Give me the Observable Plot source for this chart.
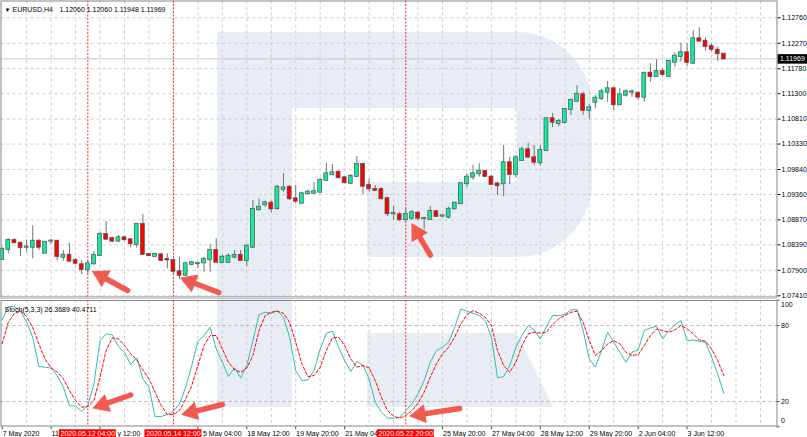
<!DOCTYPE html>
<html><head><meta charset="utf-8">
<script src="https://cdn.jsdelivr.net/npm/d3@7"></script>
<script src="https://cdn.jsdelivr.net/npm/@observablehq/plot@0.6"></script>
<style>
html,body{margin:0;padding:0;background:#fff;}
#wrap{position:relative;width:807px;height:437px;overflow:hidden;background:#fff;}
#wm{position:absolute;left:0;top:0;}
#top{position:absolute;left:0;top:0;}
#sep{position:absolute;left:0;top:297px;width:777px;height:2px;background:#cfcfcf;}
#bot{position:absolute;left:0;top:299px;}
</style></head><body>
<div id="wrap">
<svg id="wm" width="807" height="437"><path fill="#e8edf5" fill-rule="evenodd" d="M217,32 H517 A75,75 0 0 1 592,107 V182 A75,75 0 0 1 517,257 H367 V182 H292 V407 H217 Z M292,108 H517 V182 H292 Z M367,333 H517 L553,407 H367 Z"/></svg>
<div id="top"></div><div id="sep"></div><div id="bot"></div>
</div>
<script>
// ---------- data ----------
const symbolName = "EURUSD,H4";
const headerOHLC = [1.12060, 1.12060, 1.11948, 1.11969];
const stochName = "Stoch(5,3,3)";
const stochLast = [26.3689, 40.4711];

const open  = [1.08109,1.08301,1.08474,1.08422,1.08345,1.08345,1.08461,1.08230,1.08461,1.08461,1.08153,1.08191,1.08089,1.08007,1.07910,1.08026,1.08186,1.08590,1.08513,1.08461,1.08526,1.08488,1.08397,1.08782,1.08205,1.08166,1.08199,1.08109,1.08089,1.07872,1.07806,1.08012,1.08026,1.08045,1.08103,1.08282,1.08051,1.08051,1.08153,1.08191,1.08089,1.08345,1.09065,1.09161,1.09192,1.09084,1.09456,1.09500,1.09277,1.09192,1.09373,1.09385,1.09404,1.09629,1.09739,1.09789,1.09681,1.09577,1.09706,1.09937,1.09533,1.09456,1.09456,1.09277,1.08988,1.08969,1.08873,1.08903,1.09000,1.08892,1.08878,1.09027,1.08942,1.08923,1.09084,1.09181,1.09566,1.09693,1.09758,1.09802,1.09693,1.09562,1.09566,1.09970,1.09745,1.10014,1.10220,1.10066,1.09970,1.10206,1.10817,1.10726,1.10745,1.10996,1.11155,1.11278,1.10976,1.11136,1.11207,1.11329,1.11394,1.11086,1.11271,1.11329,1.11309,1.11232,1.11694,1.11631,1.11727,1.11631,1.11906,1.12016,1.12087,1.11887,1.12356,1.12310,1.12208,1.12137,1.12060];
const high  = [1.08345,1.08507,1.08507,1.08442,1.08488,1.08757,1.08488,1.08455,1.08494,1.08474,1.08282,1.08422,1.08122,1.08089,1.08089,1.08268,1.08634,1.08840,1.08538,1.08571,1.08551,1.08507,1.08807,1.08975,1.08218,1.08230,1.08218,1.08218,1.08122,1.08153,1.08057,1.08070,1.08057,1.08153,1.08392,1.08507,1.08186,1.08218,1.08282,1.08282,1.08392,1.09244,1.09277,1.09231,1.09231,1.09533,1.09758,1.09533,1.09533,1.09404,1.09450,1.09585,1.09662,1.09962,1.09937,1.09808,1.09706,1.09745,1.10091,1.09962,1.09662,1.09533,1.09489,1.09308,1.09129,1.09019,1.09084,1.09052,1.09032,1.08923,1.09129,1.09052,1.08969,1.09115,1.09211,1.09585,1.09758,1.09918,1.09950,1.09816,1.09725,1.09596,1.10303,1.10078,1.10110,1.10270,1.10347,1.10303,1.10303,1.10822,1.10919,1.10803,1.11015,1.11201,1.11457,1.11329,1.11086,1.11265,1.11381,1.11534,1.11425,1.11394,1.11375,1.11375,1.11329,1.11708,1.11875,1.11952,1.11779,1.11939,1.12087,1.12272,1.12260,1.12516,1.12568,1.12376,1.12260,1.12195,1.12060];
const low   = [1.08089,1.08218,1.08411,1.08166,1.08249,1.08122,1.08282,1.08218,1.08397,1.08076,1.08076,1.08064,1.08012,1.07820,1.07820,1.07993,1.08166,1.08474,1.08442,1.08442,1.08461,1.08334,1.08326,1.08195,1.08166,1.08153,1.08070,1.07930,1.07820,1.07729,1.07781,1.07993,1.07930,1.07864,1.07864,1.08045,1.08026,1.08037,1.08122,1.08076,1.07974,1.08315,1.09038,1.09115,1.09007,1.09065,1.09404,1.09244,1.09181,1.09181,1.09360,1.09373,1.09385,1.09616,1.09725,1.09662,1.09566,1.09546,1.09693,1.09354,1.09404,1.09427,1.09258,1.08936,1.08859,1.08840,1.08840,1.08859,1.08846,1.08680,1.08859,1.08923,1.08923,1.08892,1.09065,1.09167,1.09500,1.09629,1.09693,1.09687,1.09533,1.09340,1.09321,1.09552,1.09681,1.10001,1.10066,1.09918,1.09904,1.10193,1.10649,1.10668,1.10720,1.10880,1.11136,1.10880,1.10803,1.11009,1.11169,1.11136,1.10976,1.11073,1.11232,1.11232,1.11169,1.11136,1.11521,1.11617,1.11617,1.11617,1.11810,1.11906,1.11823,1.11862,1.12305,1.12118,1.12098,1.11925,1.11948];
const close = [1.08301,1.08474,1.08430,1.08334,1.08349,1.08461,1.08345,1.08436,1.08465,1.08166,1.08191,1.08076,1.08037,1.07916,1.08026,1.08186,1.08590,1.08499,1.08461,1.08526,1.08488,1.08411,1.08782,1.08205,1.08180,1.08205,1.08089,1.08099,1.07883,1.07806,1.08026,1.08045,1.08028,1.08109,1.08282,1.08057,1.08153,1.08166,1.08191,1.08089,1.08365,1.09071,1.09115,1.09200,1.09084,1.09500,1.09485,1.09277,1.09231,1.09373,1.09404,1.09412,1.09629,1.09758,1.09777,1.09681,1.09585,1.09706,1.09937,1.09519,1.09469,1.09437,1.09277,1.08988,1.08994,1.08873,1.08975,1.09007,1.08903,1.08898,1.09032,1.08936,1.08948,1.09077,1.09192,1.09566,1.09693,1.09758,1.09808,1.09706,1.09552,1.09527,1.09970,1.09745,1.10066,1.10220,1.10078,1.09981,1.10206,1.10817,1.10751,1.10765,1.10996,1.11169,1.11284,1.10976,1.11028,1.11213,1.11336,1.11394,1.11086,1.11278,1.11336,1.11333,1.11232,1.11694,1.11631,1.11727,1.11669,1.11919,1.12021,1.12087,1.11900,1.12356,1.12310,1.12208,1.12150,1.12068,1.11969];

const stochMain   = [84.4,95.0,95.0,91.3,82.6,70.8,47.6,47.1,46.3,40.5,31.3,16.8,16.3,12.3,16.8,33.9,68.1,73.4,72.6,63.4,58.9,49.2,54.4,37.9,31.3,8.1,8.1,9.7,12.3,18.1,31.3,48.4,67.6,72.1,78.6,61.5,51.0,39.7,46.5,38.6,48.4,68.1,88.7,90.5,89.7,91.8,86.5,70.8,44.4,36.5,37.1,44.4,61.5,73.9,75.5,62.9,52.3,43.6,51.8,48.4,37.9,19.4,11.5,7.0,6.8,7.6,12.8,18.1,26.0,36.5,51.0,60.2,62.9,66.8,78.6,93.1,91.3,89.7,87.9,83.9,70.8,38.6,39.7,48.4,62.9,72.1,80.0,76.5,69.4,79.2,87.9,87.9,88.7,92.3,92.6,76.0,53.6,47.1,60.2,74.7,66.8,58.9,51.0,58.9,60.7,76.0,78.1,79.4,69.4,76.0,80.5,83.9,68.1,68.6,67.6,66.8,55.0,41.8,26.4];
const stochSignal = [65.5,82.6,89.7,91.3,87.1,78.1,65.5,53.6,46.5,43.1,37.9,28.6,20.7,15.5,16.0,20.7,39.2,60.2,70.2,69.4,64.2,57.6,52.9,45.0,37.9,27.3,16.8,9.7,9.7,12.8,22.1,32.6,48.4,64.2,72.1,72.1,61.5,51.0,45.0,43.1,46.5,56.3,76.0,87.9,90.5,91.3,89.7,82.6,66.8,49.7,39.7,40.5,47.1,60.2,70.2,70.8,64.2,53.6,47.1,48.4,46.5,36.5,23.4,12.8,8.4,6.8,8.9,12.8,18.6,27.3,39.2,49.7,57.6,62.9,70.8,81.3,88.6,91.8,89.7,86.5,80.0,60.2,48.4,43.1,51.0,64.2,73.4,74.7,73.9,74.7,80.8,85.2,87.9,90.5,91.3,82.6,68.1,56.3,60.2,65.5,68.1,65.5,58.9,56.3,57.1,64.2,72.1,77.3,76.0,74.7,76.5,80.0,77.3,73.4,68.6,67.6,61.5,52.3,40.5];

const priceTicks = [1.12760,1.12270,1.11780,1.11300,1.10810,1.10330,1.09840,1.09360,1.08870,1.08390,1.07900,1.07410];
const stochLevels = [20, 80];
const stochTicks = [100, 80, 20, 0];
const timeTickIdx = [0,8,16,24,32,40,48,56,64,72,80,88,96,104,112];
// visible parts of the time labels (the red date boxes hide the rest)
const timeTickLabels = ["7 May 2020","11","y 12:00","","5 May 04:00","18 May 12:00","19 May 20:00","21 May 04","","25 May 20:00","27 May 04:00","28 May 12:00","29 May 20:00","2 Jun 04:00","3 Jun 12:00"];
const markIdx = [14, 28, 66];
const markLabels = ["2020.05.12 04:00","2020.05.14 12:00","2020.05.22 20:00"];
const gridEvery = 4;

// arrows: tail (fromX, fromY) -> tip (toX, toY), x in bar index
const priceArrows = [
  {fromX: 20.5, fromY: 1.07512, toX: 14.8, toY: 1.07878},
  {fromX: 35.4, fromY: 1.07474, toX: 29.2, toY: 1.07753},
  {fromX: 70.0, fromY: 1.08195, toX: 67.0, toY: 1.08792}
];
const stochArrows = [
  {fromX: 21.0, fromY: 25.1, toX: 14.9, toY: 14.8},
  {fromX: 36.0, fromY: 17.6, toX: 29.4, toY: 9.7},
  {fromX: 74.8, fromY: 14.5, toX: 66.7, toY: 8.5}
];

// ---------- build ----------
const FONT = "'Liberation Sans', Arial, sans-serif";
const GRID = "#cdcdcd", FRAME = "#858585", WICK = "#6c7474", OUTLINE = "#4a5450";
const BULL = "#12e8a0", BEAR = "#ff0000", ARROW = "#f25a4f", TEAL = "#2fbdb2", VLINE = "#ff2a2a";

const xDomain = [0, 118], xRange = [1.7, 723.3];
const priceDomain = [1.07410, 1.12760], priceRange = [295.3, 17.3];
const stochDomain = [0, 100], stochRange = [127.3, 0.7];
const xs = d3.scaleLinear(xDomain, xRange);
const ysP = d3.scaleLinear(priceDomain, priceRange);
const ysS = d3.scaleLinear(stochDomain, stochRange);
const xRightEdge = xs.invert(776.5);
const xCanvasEnd = xs.invert(807);
const boxHalf = 4.66; // half-width of the red date boxes, in bars

const candles = open.map((o, i) => ({i, o, h: high[i], l: low[i], c: close[i]}));
const stoch = stochMain.map((m, i) => ({i, main: m, signal: stochSignal[i]}));
const vGrid = d3.range(gridEvery, Math.floor(xRightEdge) + 1, gridEvery);
const markers = markIdx.map((i, k) => ({i, label: markLabels[k]}));
const timeTicks = timeTickIdx.map((i, k) => {
  const cover = markIdx.find(m => i > m - boxHalf && i < m + boxHalf);
  return {i, at: cover === undefined ? i : cover + boxHalf + 0.1, label: timeTickLabels[k]};
}).filter(d => d.label !== "");
const lastClose = close[close.length - 1];

const R = 6.4, HEAD_BACK = 2 * R * Math.sqrt(Math.PI / (3 * Math.sqrt(3)));
function arrowMarks(list, ys) {
  const shafts = [], heads = [];
  for (const a of list) {
    const X0 = xs(a.fromX), Y0 = ys(a.fromY), X1 = xs(a.toX), Y1 = ys(a.toY);
    const L = Math.hypot(X1 - X0, Y1 - Y0), ux = (X1 - X0) / L, uy = (Y1 - Y0) / L;
    const cx = X1 - ux * HEAD_BACK, cy = Y1 - uy * HEAD_BACK;
    shafts.push({x1: a.fromX, y1: a.fromY, x2: xs.invert(cx), y2: ys.invert(cy)});
    heads.push({x: xs.invert(cx), y: ys.invert(cy), rot: Math.atan2(ux, -uy) * 180 / Math.PI});
  }
  return [
    Plot.link(shafts, {x1: "x1", y1: "y1", x2: "x2", y2: "y2", stroke: ARROW, strokeWidth: 5.5, strokeLinecap: "round"}),
    Plot.dot(heads, {x: "x", y: "y", symbol: "triangle", r: R, fill: ARROW, stroke: ARROW, strokeWidth: 1, strokeLinejoin: "round", rotate: "rot"})
  ];
}

const baseStyle = {background: "transparent", fontFamily: FONT, fontSize: "7px", overflow: "visible", color: "#000"};

const topPlot = Plot.plot({
  width: 807, height: 297,
  marginLeft: 0.5, marginTop: 0.5, marginRight: 30.5, marginBottom: 0.5,
  style: baseStyle,
  x: {domain: xDomain, range: xRange, axis: null},
  y: {domain: priceDomain, range: priceRange, axis: "right", ticks: priceTicks, tickFormat: d => d.toFixed(5), tickSize: 3, tickPadding: 1.5, label: null},
  marks: [
    Plot.ruleY(priceTicks, {stroke: GRID, strokeDasharray: "3,3"}),
    Plot.ruleX(vGrid, {stroke: GRID, strokeDasharray: "3,3"}),
    Plot.ruleY([lastClose], {stroke: "#c6c6c6"}),
    Plot.ruleX(markIdx, {stroke: VLINE, strokeDasharray: "2,1.5"}),
    Plot.ruleX(candles, {x: "i", y1: "l", y2: "h", stroke: WICK}),
    Plot.rect(candles, {x1: d => d.i - 0.32, x2: d => d.i + 0.32, y1: "o", y2: "c",
      fill: d => d.c >= d.o ? BULL : BEAR, stroke: OUTLINE, strokeWidth: 0.7, insetTop: -0.5, insetBottom: -0.5}),
    ...arrowMarks(priceArrows, ysP),
    Plot.text(["\u25BC"], {frameAnchor: "top-left", dx: 3.5, dy: 6.5, textAnchor: "start", fontSize: 6}),
    Plot.text([symbolName], {frameAnchor: "top-left", dx: 11.5, dy: 6.5, textAnchor: "start"}),
    Plot.text([headerOHLC.map(v => v.toFixed(5)).join(" ")], {frameAnchor: "top-left", dx: 58.5, dy: 6.5, textAnchor: "start"}),
    Plot.ruleY([lastClose], {x1: () => xs.invert(777.5), x2: () => xCanvasEnd, stroke: "#000", strokeWidth: 9.5}),
    Plot.text([lastClose], {x: () => xs.invert(779.5), y: d => d, text: d => d.toFixed(5), fill: "#fff", textAnchor: "start"}),
    Plot.frame({stroke: FRAME})
  ]
});
document.getElementById("top").appendChild(topPlot);

const botPlot = Plot.plot({
  width: 807, height: 138,
  marginLeft: 0.5, marginTop: 1, marginRight: 30.5, marginBottom: 11.5,
  style: baseStyle,
  x: {domain: xDomain, range: xRange, axis: null},
  y: {domain: stochDomain, range: stochRange, axis: null},
  marks: [
    Plot.ruleY(stochLevels, {stroke: "#b8b8b8", strokeDasharray: "3,3"}),
    Plot.ruleX(vGrid, {stroke: GRID, strokeDasharray: "3,3"}),
    Plot.ruleX(markIdx, {stroke: VLINE, strokeDasharray: "2,1.5"}),
    Plot.line(stoch, {x: "i", y: "main", stroke: TEAL, strokeWidth: 1}),
    Plot.line(stoch, {x: "i", y: "signal", stroke: "red", strokeWidth: 1, strokeDasharray: "3,2"}),
    ...arrowMarks(stochArrows, ysS),
    Plot.text([`${stochName} ${stochLast[0].toFixed(4)} ${stochLast[1].toFixed(4)}`], {frameAnchor: "top-left", dx: 3.5, dy: 6.5, textAnchor: "start"}),
    Plot.ruleY(stochTicks, {x1: () => xRightEdge, x2: () => xs.invert(779.5), stroke: "#444"}),
    Plot.text([100], {y: d => d, frameAnchor: "right", dx: 4, dy: 5, text: d => String(d), textAnchor: "start"}),
    Plot.text([80, 20], {y: d => d, frameAnchor: "right", dx: 4, text: d => String(d), textAnchor: "start"}),
    Plot.text([0], {y: d => d, frameAnchor: "right", dx: 4, dy: -5.6, text: d => String(d), textAnchor: "start"}),
    Plot.ruleX(timeTicks, {x: "i", y1: () => 0, y2: () => -2.2, stroke: "#444"}),
    Plot.text(timeTicks, {x: "at", y: () => 0, dy: 6.8, dx: 0.5, text: "label", textAnchor: "start"}),
    Plot.ruleY(markers, {x1: d => d.i - boxHalf, x2: d => d.i + boxHalf, y: () => 0, dy: 6.6, stroke: "red", strokeWidth: 8.5}),
    Plot.text(markers, {x: "i", y: () => 0, dy: 6.8, text: "label", fill: "#fff"}),
    Plot.frame({stroke: FRAME})
  ]
});
document.getElementById("bot").appendChild(botPlot);
</script>
</body></html>
